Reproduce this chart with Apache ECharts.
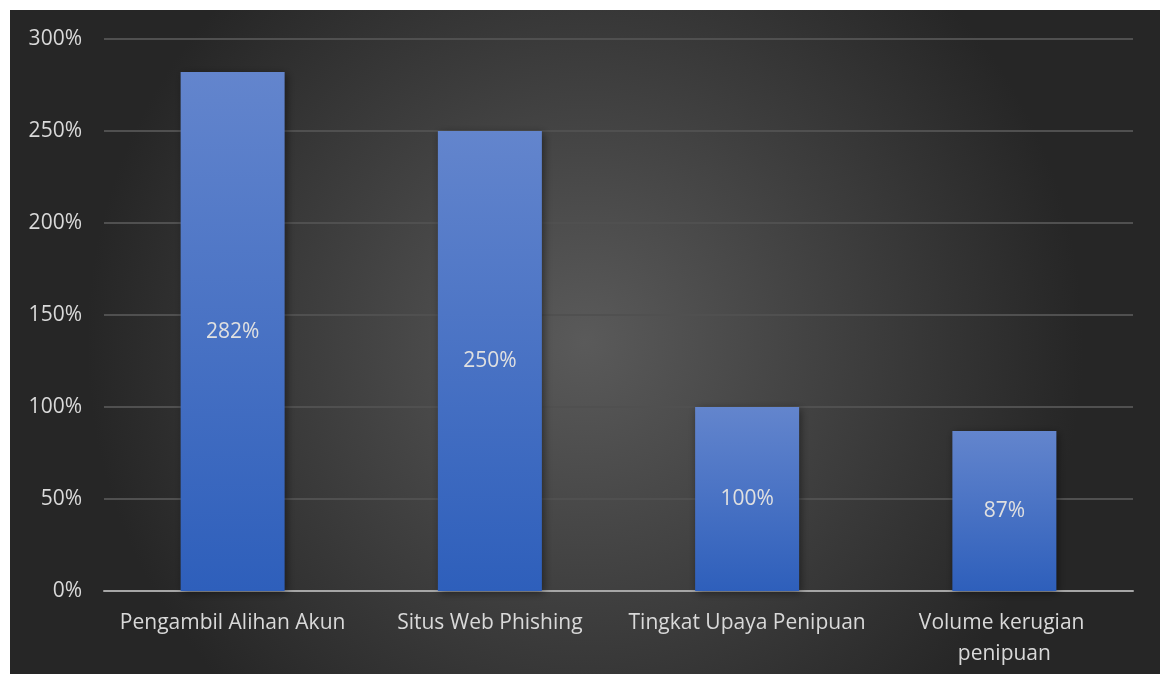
<!DOCTYPE html>
<html><head><meta charset="utf-8">
<script src="https://cdn.jsdelivr.net/npm/echarts@6/dist/echarts.min.js"></script>
<style>
html,body{margin:0;padding:0;background:#fff;}
#c{position:absolute;left:10px;top:10px;width:1150px;height:664px;}
</style></head><body>
<div id="c"></div>
<script>
const categories = ["Pengambil Alihan Akun", "Situs Web Phishing", "Tingkat Upaya Penipuan", "Volume kerugian penipuan"];
const values = [282, 250, 100, 87];
const yTicks = [0, 50, 100, 150, 200, 250, 300];

const chart = echarts.init(document.getElementById('c'));
const font = '"Open Sans", "Noto Sans", sans-serif';
chart.setOption({
  backgroundColor: new echarts.graphic.RadialGradient(0.5, 0.5, 0.75, [
    {offset: 0, color: '#5a5a5a'},
    {offset: 1, color: '#262626'}
  ]),
  animation: false,
  grid: {left: 94, right: 27, top: 29, bottom: 83},
  xAxis: {
    type: 'category',
    data: categories,
    axisLine: {lineStyle: {color: '#a6a6a6', width: 2}},
    axisTick: {show: false},
    axisLabel: {color: '#d9d9d9', fontSize: 21, fontFamily: font, margin: 17, width: 250, overflow: 'break', lineHeight: 31, interval: 0}
  },
  yAxis: {
    type: 'value',
    min: yTicks[0], max: yTicks[yTicks.length - 1], interval: 50,
    axisLine: {show: false},
    axisTick: {show: false},
    axisLabel: {color: '#d9d9d9', fontSize: 21, fontFamily: font, margin: 22, formatter: v => v + '%'},
    splitLine: {lineStyle: {color: '#505050', width: 2}}
  },
  series: [{
    type: 'bar',
    data: values,
    barWidth: 104,
    itemStyle: {
      color: new echarts.graphic.LinearGradient(0, 0, 0, 1, [
        {offset: 0, color: '#6385cd'},
        {offset: 1, color: '#2e5fbb'}
      ]),
      shadowColor: 'rgba(0,0,0,0.45)', shadowBlur: 8, shadowOffsetX: 2, shadowOffsetY: 2
    },
    label: {show: true, position: 'inside', color: '#e0e0e0', fontSize: 21, fontFamily: font, formatter: p => p.value + '%'}
  }]
});
</script>
</body></html>
